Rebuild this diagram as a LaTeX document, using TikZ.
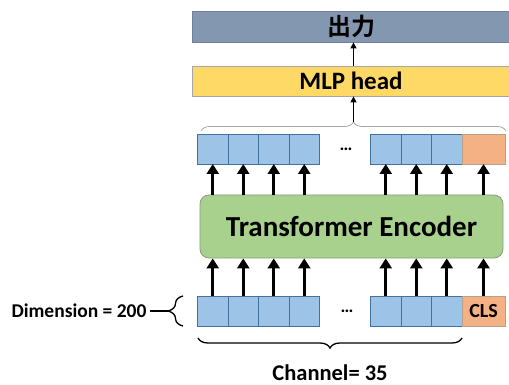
\documentclass[tikz,border=0pt]{standalone}
\usepackage{fontspec}
\setmainfont{Carlito}
\newfontfamily\cjkfont{Noto Sans CJK JP}[BoldFont={* Bold}]
\usetikzlibrary{positioning,arrows.meta,decorations.pathreplacing}

\definecolor{outfill}{HTML}{8497B0}
\definecolor{outline}{HTML}{6F8099}
\definecolor{mlpfill}{HTML}{FFD966}
\definecolor{mlpline}{HTML}{A6A6A6}
\definecolor{cellfill}{HTML}{9DC3E6}
\definecolor{cellline}{HTML}{41719C}
\definecolor{clsfill}{HTML}{F4B183}
\definecolor{clsline}{HTML}{B4A08C}
\definecolor{encfill}{HTML}{A9D18E}
\definecolor{encline}{HTML}{8A9A80}

\tikzset{
  cell/.style={draw=cellline, fill=cellfill, line width=0.7pt,
    minimum width=30.5pt, minimum height=30pt, inner sep=0pt, outer sep=0pt},
  clscell/.style={cell, draw=clsline, fill=clsfill, minimum width=43pt},
  bigarrow/.style={line width=2.6pt, -{Triangle[length=10pt,width=12pt]}},
  thinarrow/.style={line width=1.2pt, -{Triangle[length=6pt,width=6pt]}},
  bigbrace/.style={decorate, decoration={brace, amplitude=#1}},
  dots/.style={font=\bfseries\fontsize{18}{20}\selectfont, inner sep=0pt},
}

\begin{document}
\begin{tikzpicture}[x=1pt, y=-1pt]
  \useasboundingbox (0,0) rectangle (509,385);

  % output and MLP head bars
  \node[draw=outline, fill=outfill, line width=0.8pt, minimum width=318pt, minimum height=31pt,
    inner sep=0pt, font=\cjkfont\bfseries\fontsize{24}{26}\selectfont] (out) at (351,26.5) {出力};
  \node[draw=mlpline, fill=mlpfill, line width=0.8pt, minimum width=318pt, minimum height=30pt,
    inner sep=0pt, font=\bfseries\fontsize{25}{27}\selectfont] (mlp) at (351,81) {MLP head};

  % encoder block
  \node[draw=encline, fill=encfill, line width=0.8pt, rounded corners=9pt,
    minimum width=303pt, minimum height=63pt,
    font=\bfseries\fontsize{29}{31}\selectfont] (enc) at (351.5,226.5) {Transformer Encoder};

  % token rows: t = outputs, b = inputs
  \foreach \i in {1,...,4} {
    \node[cell] (t\i) at ({197.5+30.5*(\i-0.5)},149) {};
    \node[cell] (b\i) at ({197.5+30.5*(\i-0.5)},311) {};
  }
  \foreach \i in {5,...,7} {
    \node[cell] (t\i) at ({370.5+30.5*(\i-4.5)},149) {};
    \node[cell] (b\i) at ({370.5+30.5*(\i-4.5)},311) {};
  }
  \node[clscell, right=0pt of t7] (t8) {};
  \node[clscell, right=0pt of b7, font=\bfseries\fontsize{20}{22}\selectfont] (b8) {CLS};

  \node[dots] (tdots) at (346,149) {…};
  \node[dots] (bdots) at (347,311) {…};

  \foreach \i in {1,...,8} {
    \draw[bigarrow] (b\i.north) -- (b\i.north |- enc.south);
    \draw[bigarrow] (t\i.south |- enc.north) -- (t\i.south);
  }

  % braces
  \draw[bigbrace=9pt, draw=mlpline, line width=0.8pt] (201,131) -- (506,131);
  \coordinate (toptip) at (353.5,122);
  \draw[thinarrow] (toptip) -- (toptip |- mlp.south);
  \draw[thinarrow] (mlp.north -| toptip) -- (toptip |- out.south);

  \draw[bigbrace=15pt, line width=1.3pt] (183,326) -- (183,296);
  \coordinate (dimtip) at (168,311);
  \node[anchor=east, font=\bfseries\fontsize{19.5}{21}\selectfont] (dim) at (150,311) {Dimension = 200};
  \draw[line width=1.3pt] (dim.east) -- (dimtip);

  \draw[bigbrace=10pt, line width=1.3pt] (462,338) -- (198,338);
  \node[font=\bfseries\fontsize{22.5}{24}\selectfont] (chan) at (330,373) {Channel= 35};
\end{tikzpicture}
\end{document}
